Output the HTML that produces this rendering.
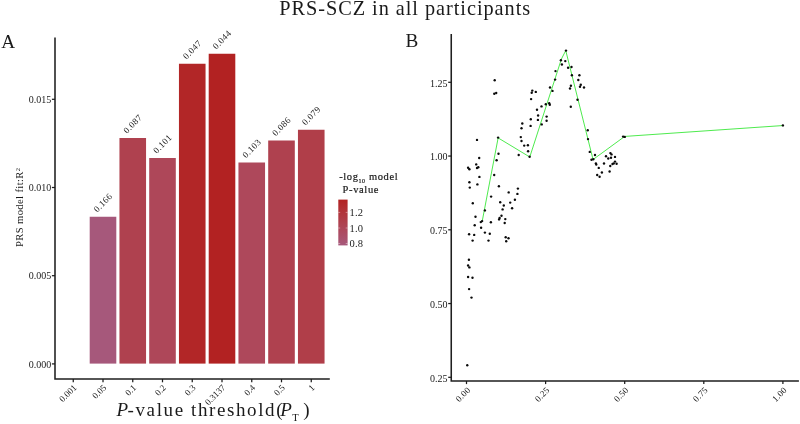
<!DOCTYPE html>
<html lang="en"><head><meta charset="utf-8"><title>PRS-SCZ in all participants</title>
<style>html,body{margin:0;padding:0;background:#fff;}body{width:800px;height:424px;overflow:hidden;}svg{display:block;will-change:transform;font-family:"Liberation Serif", serif;fill:#1a1a1a;}.tk{font-size:10px;}.ax{stroke:#1f1f1f;stroke-width:1.55;fill:none;}.tm{stroke:#1c1c1c;stroke-width:1.25;fill:none;}.pt{fill:#0a0a0a;}</style></head><body>
<svg width="800" height="424" viewBox="0 0 800 424">
<rect width="800" height="424" fill="#ffffff"/>
<text x="405.2" y="15" text-anchor="middle" font-size="20.3" letter-spacing="0.96">PRS-SCZ in all participants</text>
<text x="1.2" y="47.5" font-size="19.2">A</text>
<text x="405.4" y="47.3" font-size="19.2">B</text>
<path class="ax" d="M55.00 37.5V379.00H329.8"/>
<path class="tm" d="M51.9 363.90H55.00"/>
<text class="tk" x="51.2" y="367.60" text-anchor="end">0.000</text>
<path class="tm" d="M51.9 275.70H55.00"/>
<text class="tk" x="51.2" y="279.40" text-anchor="end">0.005</text>
<path class="tm" d="M51.9 187.50H55.00"/>
<text class="tk" x="51.2" y="191.20" text-anchor="end">0.010</text>
<path class="tm" d="M51.9 99.30H55.00"/>
<text class="tk" x="51.2" y="103.00" text-anchor="end">0.015</text>
<text transform="translate(23.4 207.3) rotate(-90)" text-anchor="middle" font-size="10.6" letter-spacing="0.38">PRS model fit:R<tspan font-size="6.5" dy="-3.5">2</tspan></text>
<path class="tm" d="M73.25 379.00V382.3"/>
<text font-size="9" transform="translate(77.15 388.20) rotate(-45)" text-anchor="end">0.001</text>
<path class="tm" d="M103.00 379.00V382.3"/>
<text font-size="9" transform="translate(106.90 388.20) rotate(-45)" text-anchor="end">0.05</text>
<rect x="89.70" y="216.75" width="26.60" height="146.85" fill="#a6587b"/>
<text font-size="9" letter-spacing="0.45" transform="translate(97.20 212.65) rotate(-45)">0.166</text>
<path class="tm" d="M132.75 379.00V382.3"/>
<text font-size="9" transform="translate(136.65 388.20) rotate(-45)" text-anchor="end">0.1</text>
<rect x="119.45" y="138.00" width="26.60" height="225.60" fill="#af414f"/>
<text font-size="9" letter-spacing="0.45" transform="translate(126.95 133.90) rotate(-45)">0.087</text>
<path class="tm" d="M162.50 379.00V382.3"/>
<text font-size="9" transform="translate(166.40 388.20) rotate(-45)" text-anchor="end">0.2</text>
<rect x="149.20" y="158.00" width="26.60" height="205.60" fill="#ae4759"/>
<text font-size="9" letter-spacing="0.45" transform="translate(156.70 153.90) rotate(-45)">0.101</text>
<path class="tm" d="M192.25 379.00V382.3"/>
<text font-size="9" transform="translate(196.15 388.20) rotate(-45)" text-anchor="end">0.3</text>
<rect x="178.95" y="63.75" width="26.60" height="299.85" fill="#b22627"/>
<text font-size="9" letter-spacing="0.45" transform="translate(186.45 59.65) rotate(-45)">0.047</text>
<path class="tm" d="M222.00 379.00V382.3"/>
<text font-size="9" transform="translate(225.90 388.20) rotate(-45)" text-anchor="end">0.3137</text>
<rect x="208.70" y="53.75" width="26.60" height="309.85" fill="#b22222"/>
<text font-size="9" letter-spacing="0.45" transform="translate(216.20 49.65) rotate(-45)">0.044</text>
<path class="tm" d="M251.75 379.00V382.3"/>
<text font-size="9" transform="translate(255.65 388.20) rotate(-45)" text-anchor="end">0.4</text>
<rect x="238.45" y="162.50" width="26.60" height="201.10" fill="#ae485b"/>
<text font-size="9" letter-spacing="0.45" transform="translate(245.95 158.40) rotate(-45)">0.103</text>
<path class="tm" d="M281.50 379.00V382.3"/>
<text font-size="9" transform="translate(285.40 388.20) rotate(-45)" text-anchor="end">0.5</text>
<rect x="268.20" y="140.50" width="26.60" height="223.10" fill="#af414f"/>
<text font-size="9" letter-spacing="0.45" transform="translate(275.70 136.40) rotate(-45)">0.086</text>
<path class="tm" d="M311.25 379.00V382.3"/>
<text font-size="9" transform="translate(315.15 388.20) rotate(-45)" text-anchor="end">1</text>
<rect x="297.95" y="129.75" width="26.60" height="233.85" fill="#b03e49"/>
<text font-size="9" letter-spacing="0.45" transform="translate(305.45 125.65) rotate(-45)">0.079</text>
<g font-size="19"><text x="116.5" y="416.2" font-style="italic">P</text><text x="127.6" y="416.2" letter-spacing="1.6">-value threshold(</text><text x="280.2" y="416.2" font-style="italic">P</text><text x="292.3" y="420.7" font-size="10.5">T</text><text x="303.3" y="416.2">)</text></g>
<text x="339.2" y="179.5" font-size="10.5" letter-spacing="0.6" stroke="#1a1a1a" stroke-width="0.2">-log<tspan font-size="6" dy="3.7">10</tspan><tspan dy="-3.7"> model</tspan></text>
<text x="342.5" y="193" font-size="10.5" letter-spacing="0.65" stroke="#1a1a1a" stroke-width="0.2">P-value</text>
<defs><linearGradient id="g" x1="0" y1="1" x2="0" y2="0">
<stop offset="0%" stop-color="#a6587b"/>
<stop offset="10%" stop-color="#a95472"/>
<stop offset="20%" stop-color="#ab4f69"/>
<stop offset="30%" stop-color="#ad4a60"/>
<stop offset="40%" stop-color="#ae4657"/>
<stop offset="50%" stop-color="#af414e"/>
<stop offset="60%" stop-color="#b03b45"/>
<stop offset="70%" stop-color="#b1363d"/>
<stop offset="80%" stop-color="#b23034"/>
<stop offset="90%" stop-color="#b2292b"/>
<stop offset="100%" stop-color="#b22222"/>
</linearGradient></defs>
<rect x="338.3" y="199.60" width="9.3" height="45.80" fill="url(#g)"/>
<path d="M338.3 212.40h1.9M345.7 212.40h1.9" stroke="#fff" stroke-width="0.5" opacity="0.8"/>
<text x="349.6" y="215.90" font-size="10.5" letter-spacing="0.2">1.2</text>
<path d="M338.3 228.00h1.9M345.7 228.00h1.9" stroke="#fff" stroke-width="0.5" opacity="0.8"/>
<text x="349.6" y="231.50" font-size="10.5" letter-spacing="0.2">1.0</text>
<path d="M338.3 243.50h1.9M345.7 243.50h1.9" stroke="#fff" stroke-width="0.5" opacity="0.8"/>
<text x="349.6" y="247.00" font-size="10.5" letter-spacing="0.2">0.8</text>
<path class="ax" d="M451.25 34V381.00H798.9"/>
<path class="tm" d="M448.2 377.30H451.25"/>
<text class="tk" x="447.4" y="381.50" text-anchor="end">0.25</text>
<path class="tm" d="M448.2 303.55H451.25"/>
<text class="tk" x="447.4" y="307.75" text-anchor="end">0.50</text>
<path class="tm" d="M448.2 229.80H451.25"/>
<text class="tk" x="447.4" y="234.00" text-anchor="end">0.75</text>
<path class="tm" d="M448.2 156.05H451.25"/>
<text class="tk" x="447.4" y="160.25" text-anchor="end">1.00</text>
<path class="tm" d="M448.2 82.30H451.25"/>
<text class="tk" x="447.4" y="86.50" text-anchor="end">1.25</text>
<path class="tm" d="M466.50 381.00V384.1"/>
<text font-size="9" letter-spacing="0.2" transform="translate(471.00 390.70) rotate(-45)" text-anchor="end">0.00</text>
<path class="tm" d="M545.60 381.00V384.1"/>
<text font-size="9" letter-spacing="0.2" transform="translate(550.10 390.70) rotate(-45)" text-anchor="end">0.25</text>
<path class="tm" d="M624.70 381.00V384.1"/>
<text font-size="9" letter-spacing="0.2" transform="translate(629.20 390.70) rotate(-45)" text-anchor="end">0.50</text>
<path class="tm" d="M703.80 381.00V384.1"/>
<text font-size="9" letter-spacing="0.2" transform="translate(708.30 390.70) rotate(-45)" text-anchor="end">0.75</text>
<path class="tm" d="M782.90 381.00V384.1"/>
<text font-size="9" letter-spacing="0.2" transform="translate(787.40 390.70) rotate(-45)" text-anchor="end">1.00</text>
<polyline fill="none" stroke="#2ee62e" stroke-width="0.85" points="482.32,220.68 498.14,137.91 529.78,157.02 561.42,59.02 565.75,50.57 593.06,159.54 624.70,136.43 782.90,125.55"/>
<g class="pt">
<circle cx="494.7" cy="80.2" r="1.2"/>
<circle cx="494.3" cy="93.8" r="1.2"/>
<circle cx="496.2" cy="93.0" r="1.2"/>
<circle cx="532.3" cy="90.6" r="1.2"/>
<circle cx="531.7" cy="92.8" r="1.2"/>
<circle cx="535.8" cy="91.9" r="1.2"/>
<circle cx="531.1" cy="99.1" r="1.2"/>
<circle cx="541.5" cy="106.4" r="1.2"/>
<circle cx="537" cy="109.8" r="1.2"/>
<circle cx="545.8" cy="104.3" r="1.2"/>
<circle cx="549.2" cy="103.2" r="1.2"/>
<circle cx="549.8" cy="104.7" r="1.2"/>
<circle cx="538.1" cy="115.5" r="1.2"/>
<circle cx="546.6" cy="116.6" r="1.2"/>
<circle cx="530.8" cy="119.2" r="1.2"/>
<circle cx="537.9" cy="119.9" r="1.2"/>
<circle cx="550" cy="87.5" r="1.2"/>
<circle cx="552.5" cy="90.9" r="1.2"/>
<circle cx="555.1" cy="79.6" r="1.2"/>
<circle cx="555.5" cy="71.1" r="1.2"/>
<circle cx="560.9" cy="60.2" r="1.2"/>
<circle cx="561.9" cy="64.5" r="1.2"/>
<circle cx="565.3" cy="61.1" r="1.2"/>
<circle cx="566" cy="50.6" r="1.2"/>
<circle cx="568.1" cy="67.7" r="1.2"/>
<circle cx="571.5" cy="67" r="1.2"/>
<circle cx="571.9" cy="75.3" r="1.2"/>
<circle cx="570.9" cy="85.8" r="1.2"/>
<circle cx="570" cy="88.5" r="1.2"/>
<circle cx="570.8" cy="106.8" r="1.2"/>
<circle cx="577.5" cy="99.8" r="1.2"/>
<circle cx="579.4" cy="75.3" r="1.2"/>
<circle cx="578.3" cy="80" r="1.2"/>
<circle cx="580.8" cy="84.7" r="1.2"/>
<circle cx="580" cy="86.8" r="1.2"/>
<circle cx="584" cy="87.5" r="1.2"/>
<circle cx="546.6" cy="120.7" r="1.2"/>
<circle cx="522.3" cy="123.5" r="1.2"/>
<circle cx="530.6" cy="125.9" r="1.2"/>
<circle cx="541.7" cy="124.4" r="1.2"/>
<circle cx="521.5" cy="128.2" r="1.2"/>
<circle cx="520.8" cy="137.1" r="1.2"/>
<circle cx="521.5" cy="141" r="1.2"/>
<circle cx="524.2" cy="145.6" r="1.2"/>
<circle cx="527.9" cy="145.2" r="1.2"/>
<circle cx="528.1" cy="151.2" r="1.2"/>
<circle cx="518.7" cy="155" r="1.2"/>
<circle cx="529.6" cy="156.7" r="1.2"/>
<circle cx="498.1" cy="137.6" r="1.2"/>
<circle cx="477" cy="139.9" r="1.2"/>
<circle cx="498.5" cy="153.7" r="1.2"/>
<circle cx="496.6" cy="160.3" r="1.2"/>
<circle cx="479.2" cy="158" r="1.2"/>
<circle cx="476.2" cy="164.4" r="1.2"/>
<circle cx="478.3" cy="167.3" r="1.2"/>
<circle cx="477" cy="168" r="1.2"/>
<circle cx="468.1" cy="167.8" r="1.2"/>
<circle cx="469.4" cy="169.3" r="1.2"/>
<circle cx="494.2" cy="175" r="1.2"/>
<circle cx="479.4" cy="176.9" r="1.2"/>
<circle cx="469.4" cy="182.2" r="1.2"/>
<circle cx="477.4" cy="184.4" r="1.2"/>
<circle cx="469.8" cy="187.6" r="1.2"/>
<circle cx="498.9" cy="186.3" r="1.2"/>
<circle cx="517.9" cy="188.6" r="1.2"/>
<circle cx="508.7" cy="192.4" r="1.2"/>
<circle cx="517.4" cy="193.9" r="1.2"/>
<circle cx="587.75" cy="130.25" r="1.2"/>
<circle cx="588" cy="139.1" r="1.2"/>
<circle cx="589.75" cy="151.9" r="1.2"/>
<circle cx="595" cy="155" r="1.2"/>
<circle cx="591.5" cy="159.75" r="1.2"/>
<circle cx="593.25" cy="159.25" r="1.2"/>
<circle cx="595.9" cy="163.4" r="1.2"/>
<circle cx="596.25" cy="164.6" r="1.2"/>
<circle cx="598.75" cy="167.9" r="1.2"/>
<circle cx="604" cy="163.5" r="1.2"/>
<circle cx="606" cy="156.25" r="1.2"/>
<circle cx="608.25" cy="158.5" r="1.2"/>
<circle cx="610.4" cy="153.1" r="1.2"/>
<circle cx="611.5" cy="154.4" r="1.2"/>
<circle cx="611" cy="157.75" r="1.2"/>
<circle cx="615" cy="156.9" r="1.2"/>
<circle cx="615" cy="161.6" r="1.2"/>
<circle cx="613.75" cy="163.4" r="1.2"/>
<circle cx="612.5" cy="164" r="1.2"/>
<circle cx="616.6" cy="163.75" r="1.2"/>
<circle cx="610.25" cy="166" r="1.2"/>
<circle cx="609.6" cy="171.5" r="1.2"/>
<circle cx="601.9" cy="172.5" r="1.2"/>
<circle cx="623.1" cy="136.6" r="1.2"/>
<circle cx="624.75" cy="136.9" r="1.2"/>
<circle cx="597.2" cy="175" r="1.2"/>
<circle cx="599.6" cy="176.7" r="1.2"/>
<circle cx="491.1" cy="196.6" r="1.2"/>
<circle cx="514.9" cy="199.8" r="1.2"/>
<circle cx="472.8" cy="203.2" r="1.2"/>
<circle cx="500.2" cy="202.3" r="1.2"/>
<circle cx="510.2" cy="202.6" r="1.2"/>
<circle cx="503.8" cy="205.5" r="1.2"/>
<circle cx="512.1" cy="208.3" r="1.2"/>
<circle cx="502.6" cy="209.4" r="1.2"/>
<circle cx="484.9" cy="210.4" r="1.2"/>
<circle cx="475.5" cy="216.8" r="1.2"/>
<circle cx="501.5" cy="215.8" r="1.2"/>
<circle cx="499.6" cy="217.9" r="1.2"/>
<circle cx="499.1" cy="219.4" r="1.2"/>
<circle cx="505.3" cy="219.1" r="1.2"/>
<circle cx="482.1" cy="221.1" r="1.2"/>
<circle cx="480.8" cy="222.1" r="1.2"/>
<circle cx="490.9" cy="222.3" r="1.2"/>
<circle cx="504.7" cy="223" r="1.2"/>
<circle cx="474.7" cy="225.3" r="1.2"/>
<circle cx="481.1" cy="227.7" r="1.2"/>
<circle cx="484.9" cy="232.6" r="1.2"/>
<circle cx="489.8" cy="233.8" r="1.2"/>
<circle cx="469.1" cy="234.3" r="1.2"/>
<circle cx="474.2" cy="234.9" r="1.2"/>
<circle cx="472.6" cy="240.6" r="1.2"/>
<circle cx="488.5" cy="240.6" r="1.2"/>
<circle cx="505.7" cy="237.2" r="1.2"/>
<circle cx="508.5" cy="238.3" r="1.2"/>
<circle cx="506.2" cy="241.3" r="1.2"/>
<circle cx="468.9" cy="259.8" r="1.2"/>
<circle cx="468.1" cy="265.5" r="1.2"/>
<circle cx="469.4" cy="267.4" r="1.2"/>
<circle cx="468.1" cy="277" r="1.2"/>
<circle cx="472.5" cy="277.75" r="1.2"/>
<circle cx="469.1" cy="289.1" r="1.2"/>
<circle cx="471.5" cy="297.6" r="1.2"/>
<circle cx="467.25" cy="365.25" r="1.2"/>
<circle cx="782.9" cy="125.4" r="1.2"/>
</g>
</svg></body></html>
